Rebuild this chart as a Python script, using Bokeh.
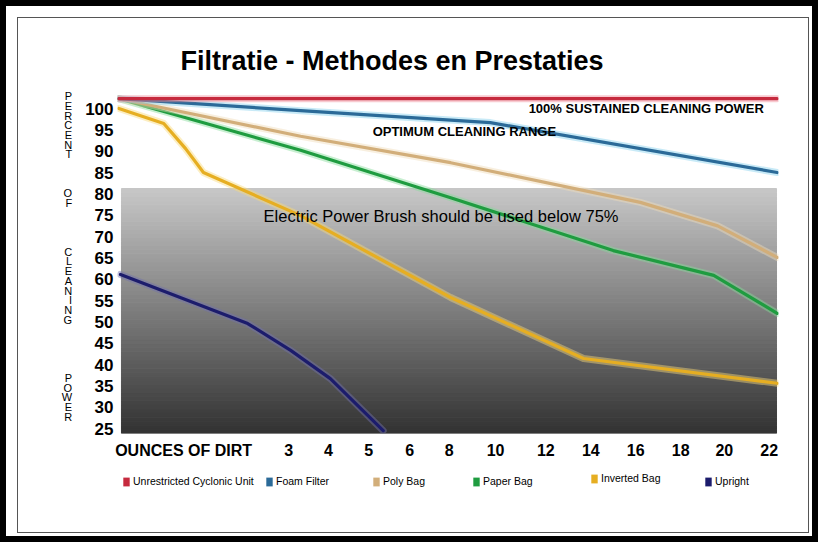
import numpy as np
from bokeh.plotting import figure
from bokeh.models import Range1d, FixedTicker, Label, Legend, LegendItem
from bokeh.layouts import column
from bokeh.embed import file_html
from bokeh.resources import INLINE

# ---------------- data ----------------
title_text = "Filtratie - Methodes en Prestaties"
# x axis is non-uniform in the original: tick positions on a 0-100 axis scale
x_tick_labels = ["OUNCES OF DIRT", "3", "4", "5", "6", "8", "10", "12", "14", "16", "18", "20", "22"]
x_tick_pos = [10.0, 25.9, 31.9, 38.0, 44.2, 50.2, 57.2, 64.8, 71.6, 78.4, 85.2, 91.8, 98.6]
y_ticks = [25, 30, 35, 40, 45, 50, 55, 60, 65, 70, 75, 80, 85, 90, 95, 100]

series_names = ["Unrestricted Cyclonic Unit", "Foam Filter", "Poly Bag", "Paper Bag", "Inverted Bag", "Upright"]

cyclonic_x = [0.2, 99.8]
cyclonic_y = [102.3, 102.3]
foam_x = [0.2, 27.7, 56.4, 99.8]
foam_y = [102.3, 99.5, 96.7, 85.0]
poly_x = [0.2, 27.7, 50.4, 79.1, 90.8, 99.8]
poly_y = [102.3, 93.5, 87.3, 78.0, 72.5, 65.1]
paper_x = [0.2, 27.7, 50.4, 75.0, 90.2, 99.8]
paper_y = [102.3, 90.2, 79.1, 66.7, 60.9, 52.0]
inverted_x = [0.2, 7.0, 10.3, 13.0, 27.7, 50.4, 70.5, 99.8]
inverted_y = [100.0, 96.5, 90.6, 85.0, 74.9, 55.7, 41.4, 35.6]
upright_x = [0.45, 19.7, 26.2, 32.2, 40.2]
upright_y = [61.1, 49.6, 43.3, 36.7, 24.5]

band_top = 81.25          # shaded zone (brush recommended)
ann_sustained = "100% SUSTAINED CLEANING POWER"
ann_optimum = "OPTIMUM CLEANING RANGE"
ann_brush = "Electric Power Brush should be used below 75%"

# ---------------- styles ----------------
core_colors = ["#c62a3e", "#2b6a98", "#d2ae7a", "#1f9c40", "#e6ae22", "#1c1c6c"]
halo_colors = ["#f08a96", "#86d0ee", "#efdcb8", "#86dc98", "#f8da78", "#7070b0"]
FONT = "Liberation Sans"

W, H1, H2 = 818, 464, 78
p = figure(width=W, height=H1, output_backend="svg", toolbar_location=None,
           x_range=Range1d(0, 100), y_range=Range1d(23.83, 106.8),
           min_border_left=117, min_border_right=40,
           min_border_top=79, min_border_bottom=31)
p.background_fill_color = "white"
p.border_fill_alpha = 0
p.outline_line_color = None
p.xgrid.visible = False
p.ygrid.visible = False

# title
p.title.text = title_text
p.title.text_font = FONT
p.title.text_font_size = "27px"
p.title.text_font_style = "bold"
p.title.text_color = "black"
p.title.align = "left"
p.title.offset = 63
p.title.standoff = 8

# gradient shaded zone
n = 60
edges = np.linspace(23.83, band_top, n + 1)
top_rgb = np.array([200, 200, 200])
bot_rgb = np.array([50, 50, 50])
cols = []
for i in range(n):
    f = ((edges[i] + edges[i + 1]) / 2 - edges[0]) / (edges[-1] - edges[0])
    c = bot_rgb + (top_rgb - bot_rgb) * f
    cols.append("#%02x%02x%02x" % tuple(int(v) for v in c))
p.quad(left=0.6, right=99.7, bottom=edges[:-1], top=edges[1:],
       fill_color=cols, line_color=cols, line_width=1)

# series lines (halo + core)
all_x = [cyclonic_x, foam_x, poly_x, paper_x, inverted_x, upright_x]
all_y = [cyclonic_y, foam_y, poly_y, paper_y, inverted_y, upright_y]
for i in [5, 4, 3, 2, 1, 0]:
    p.line(all_x[i], all_y[i], line_color=halo_colors[i], line_width=7, line_alpha=0.45,
           line_join="round", line_cap="round")
    p.line(all_x[i], all_y[i], line_color=core_colors[i], line_width=3.2,
           line_join="round", line_cap="round")

# annotations
for txt, x, y, size, style in [
    (ann_sustained, 62.2, 100.0, "13px", "bold"),
    (ann_optimum, 38.6, 94.6, "13px", "bold"),
    (ann_brush, 22.1, 74.7, "16.5px", "normal"),
]:
    p.add_layout(Label(x=x, y=y, text=txt, text_font=FONT, text_font_size=size,
                       text_font_style=style, text_baseline="middle", text_align="left",
                       text_color="black"))

# axes
p.xaxis.ticker = FixedTicker(ticks=x_tick_pos)
p.xaxis.major_label_overrides = {pos: lab for pos, lab in zip(x_tick_pos, x_tick_labels)}
p.yaxis.ticker = FixedTicker(ticks=y_ticks)
for ax in (p.xaxis, p.yaxis):
    ax.axis_line_color = None
    ax.major_tick_line_color = None
    ax.minor_tick_line_color = None
    ax.major_tick_out = 0
    ax.major_tick_in = 0
    ax.major_label_text_font = FONT
    ax.major_label_text_font_style = "bold"
    ax.major_label_text_color = "black"
p.xaxis.major_label_text_font_size = "16px"
p.xaxis.major_label_standoff = 8
p.yaxis.major_label_text_font_size = "17px"
p.yaxis.major_label_standoff = 4

ylab_words = ["PERCENT", "OF", "CLEANING", "POWER"]
ylab_gaps = [3, 4, 5]
lines = []
for wi, w in enumerate(ylab_words):
    lines.extend(list(w))
    if wi < len(ylab_gaps):
        lines.extend([" "] * ylab_gaps[wi])
p.yaxis.axis_label = "\n".join(lines)
p.yaxis.axis_label_orientation = "horizontal"
p.yaxis.axis_label_text_font = FONT
p.yaxis.axis_label_text_font_style = "normal"
p.yaxis.axis_label_text_font_size = "11px"
p.yaxis.axis_label_text_color = "black"
p.yaxis.axis_label_text_line_height = 0.81
p.yaxis.axis_label_text_align = "center"
p.yaxis.axis_label_standoff = 10

# legend strip beneath the plot (its frame is aligned with the main plot frame)
p2 = figure(width=W, height=H2, output_backend="svg", toolbar_location=None,
            x_axis_type=None, y_axis_type=None, x_range=Range1d(0, 1), y_range=Range1d(0, 1),
            min_border=0)
p2.outline_line_color = None
p2.background_fill_alpha = 0
p2.border_fill_alpha = 0
leg_x = [5, 148, 255, 355, 473, 587]      # px from frame left
leg_y = [55, 55, 55, 55, 58, 55]          # px from strip bottom
for i, name in enumerate(series_names):
    proxy = p2.quad(left=[0], right=[0], top=[0], bottom=[0], fill_color=core_colors[i],
                    line_color=None)
    lg = Legend(items=[LegendItem(label=name, renderers=[proxy])], location=(leg_x[i], leg_y[i]),
                glyph_width=8, glyph_height=11, label_height=11, label_standoff=3,
                padding=0, margin=0, spacing=0, border_line_color=None,
                background_fill_alpha=0, label_text_font=FONT,
                label_text_font_size="10.5px", label_text_color="black")
    p2.add_layout(lg)

layout = column(p, p2, spacing=0,
                styles={"background-color": "white",
                        "box-shadow": "inset 0 0 0 6px #000000, inset 4px 4px 0 13px #ffffff, "
                                      "inset 4px 4px 0 14px #555555"})
open("out.html", "w").write(file_html(layout, INLINE, title="Filtratie"))
